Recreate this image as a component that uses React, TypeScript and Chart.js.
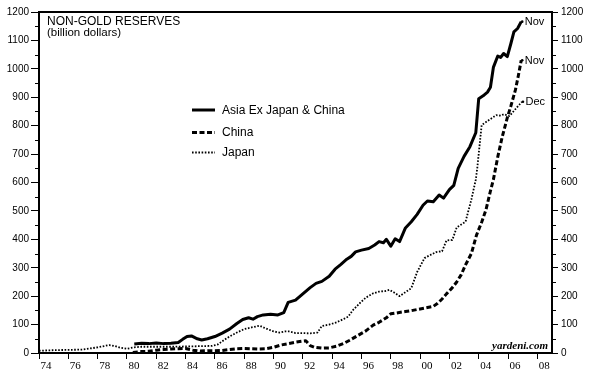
import React, { useEffect, useRef } from 'react';
import { Chart, registerables } from 'chart.js';

Chart.register(...registerables);

// ---- Data (billion dollars, decimal years) ----
const asiaYears = [1980.5, 1981.0, 1981.5, 1982.0, 1982.5, 1983.0, 1983.5, 1983.8, 1984.1, 1984.4, 1984.8, 1985.1, 1985.5, 1986.0, 1986.5, 1987.0, 1987.5, 1987.9, 1988.3, 1988.6, 1988.9, 1989.3, 1989.8, 1990.3, 1990.7, 1991.0, 1991.5, 1992.0, 1992.5, 1992.9, 1993.3, 1993.8, 1994.2, 1994.6, 1995.0, 1995.3, 1995.6, 1996.0, 1996.5, 1996.9, 1997.2, 1997.5, 1997.7, 1998.0, 1998.3, 1998.6, 1999.0, 1999.4, 1999.8, 2000.2, 2000.5, 2000.9, 2001.3, 2001.6, 2002.0, 2002.3, 2002.6, 2003.0, 2003.4, 2003.8, 2004.0, 2004.3, 2004.6, 2004.8, 2005.0, 2005.3, 2005.5, 2005.7, 2005.95, 2006.2, 2006.4, 2006.65, 2006.9];
const asiaValues = [32, 34, 33, 35, 33, 34, 37, 48, 58, 60, 50, 46, 50, 58, 70, 84, 104, 118, 124, 119, 128, 134, 136, 134, 142, 178, 186, 208, 230, 245, 252, 270, 295, 312, 330, 340, 356, 362, 368, 380, 392, 388, 400, 376, 402, 392, 440, 462, 488, 520, 535, 532, 556, 545, 575, 590, 650, 692, 726, 775, 895, 905, 918, 935, 1005, 1045, 1040, 1054, 1043, 1090, 1130, 1142, 1166];

const chinaYears = [1980.4, 1981.0, 1981.5, 1982.0, 1982.5, 1983.0, 1983.5, 1984.0, 1984.5, 1985.0, 1985.5, 1986.0, 1986.5, 1987.0, 1987.5, 1988.0, 1988.5, 1989.0, 1989.5, 1990.0, 1990.5, 1991.0, 1991.5, 1992.0, 1992.2, 1992.5, 1992.8, 1993.3, 1993.8, 1994.3, 1994.8, 1995.2, 1995.7, 1996.3, 1996.8, 1997.2, 1997.7, 1998.0, 1998.4, 1999.0, 1999.5, 2000.0, 2000.5, 2000.9, 2001.2, 2001.5, 2001.8, 2002.2, 2002.5, 2002.8, 2003.1, 2003.5, 2003.85, 2004.2, 2004.5, 2004.8, 2005.0, 2005.3, 2005.6, 2005.96, 2006.2, 2006.5, 2006.7, 2006.9];
const chinaValues = [2, 5, 6, 10, 12, 14, 15, 16, 10, 7, 8, 8, 9, 12, 15, 16, 15, 14, 15, 20, 28, 33, 38, 42, 43, 26, 20, 17, 18, 24, 34, 45, 60, 78, 98, 108, 124, 138, 141, 146, 150, 155, 160, 164, 175, 190, 208, 230, 250, 275, 310, 350, 415, 460, 505, 570, 610, 690, 760, 830, 870, 925, 975, 1030];

const japanYears = [1974.0, 1975.0, 1976.0, 1977.0, 1977.5, 1978.0, 1978.5, 1978.8, 1979.2, 1979.6, 1980.0, 1980.5, 1981.0, 1982.0, 1983.0, 1984.0, 1985.0, 1985.8, 1986.2, 1986.6, 1987.0, 1987.5, 1988.0, 1988.5, 1989.05, 1989.5, 1990.0, 1990.4, 1990.8, 1991.1, 1991.5, 1992.0, 1992.5, 1993.0, 1993.3, 1993.8, 1994.3, 1994.8, 1995.1, 1995.4, 1995.9, 1996.3, 1996.8, 1997.2, 1997.6, 1997.9, 1998.2, 1998.6, 1999.0, 1999.4, 1999.8, 2000.3, 2000.7, 2001.1, 2001.5, 2001.8, 2002.2, 2002.5, 2003.1, 2003.5, 2003.8, 2003.9, 2004.2, 2004.7, 2005.2, 2005.5, 2005.7, 2006.1, 2006.55, 2006.95];
const japanValues = [8, 10, 11, 12, 16, 20, 25, 28, 24, 18, 15, 20, 22, 22, 22, 23, 24, 25, 30, 45, 58, 72, 84, 90, 96, 86, 76, 72, 76, 76, 70, 70, 69, 72, 95, 100, 108, 120, 128, 150, 176, 195, 210, 216, 218, 222, 214, 200, 214, 228, 285, 334, 345, 355, 358, 396, 398, 442, 462, 540, 610, 650, 802, 820, 837, 835, 840, 834, 861, 884];

const seriesNames = ['Asia Ex Japan & China', 'China', 'Japan'];
const endLabels = ['Nov', 'Nov', 'Dec'];
const xTickYears = [1974, 1976, 1978, 1980, 1982, 1984, 1986, 1988, 1990, 1992, 1994, 1996, 1998, 2000, 2002, 2004, 2006, 2008];
const yMajorTicks = [0, 100, 200, 300, 400, 500, 600, 700, 800, 900, 1000, 1100, 1200];
const yMinorTicks = [50, 150, 250, 350, 450, 550, 650, 750, 850, 950, 1050, 1150];
const titleLines = ['NON-GOLD RESERVES', '(billion dollars)'];
const sourceText = 'yardeni.com';

const SANS = '"Liberation Sans", Arial, sans-serif';
const SERIF = '"Liberation Serif", "Times New Roman", serif';

const dashes: number[][] = [[], [5, 2.5], [1.6, 1.6]];
const widths = [3, 3, 1.8];

const overlayPlugin = {
  id: 'overlay',
  afterDraw(chart: any) {
    const ctx = chart.ctx as CanvasRenderingContext2D;
    const { left, right, top, bottom } = chart.chartArea;
    const yS = chart.scales.y;
    ctx.save();
    // frame
    ctx.strokeStyle = '#000';
    ctx.lineWidth = 2;
    ctx.setLineDash([]);
    ctx.strokeRect(left, top, right - left, bottom - top);
    // minor ticks
    ctx.lineWidth = 1;
    yMinorTicks.forEach((v) => {
      const py = Math.round(yS.getPixelForValue(v)) + 0.5;
      ctx.beginPath();
      ctx.moveTo(left - 4, py);
      ctx.lineTo(left, py);
      ctx.moveTo(right, py);
      ctx.lineTo(right + 4, py);
      ctx.stroke();
    });
    // title
    ctx.fillStyle = '#000';
    ctx.textAlign = 'left';
    ctx.textBaseline = 'alphabetic';
    ctx.font = `12px ${SANS}`;
    ctx.fillText(titleLines[0], left + 8, top + 13);
    ctx.font = `11.5px ${SANS}`;
    ctx.fillText(titleLines[1], left + 8, top + 24);
    // legend
    const legY = [110, 132.5, 152.5];
    seriesNames.forEach((name, i) => {
      ctx.beginPath();
      ctx.lineWidth = widths[i];
      ctx.setLineDash(dashes[i]);
      ctx.lineCap = 'butt';
      ctx.moveTo(192, legY[i]);
      ctx.lineTo(215, legY[i]);
      ctx.stroke();
      ctx.setLineDash([]);
      ctx.font = `12px ${SANS}`;
      ctx.textBaseline = 'middle';
      ctx.fillText(name, 222, legY[i] + 0.5);
    });
    // end labels
    ctx.font = `11px ${SANS}`;
    ctx.textBaseline = 'middle';
    chart.data.datasets.forEach((ds: any, i: number) => {
      const meta = chart.getDatasetMeta(i);
      const last = meta.data[meta.data.length - 1];
      if (!last) return;
      ctx.beginPath();
      ctx.arc(last.x + 1, last.y, 1.3, 0, Math.PI * 2);
      ctx.fill();
      ctx.fillText(endLabels[i], last.x + 3.5, last.y + 0.5);
    });
    // source
    ctx.font = `italic bold 11px ${SERIF}`;
    ctx.textAlign = 'right';
    ctx.textBaseline = 'alphabetic';
    ctx.fillText(sourceText, right - 4, bottom - 4);
    ctx.restore();
  },
};

export default function App() {
  const ref = useRef<HTMLCanvasElement | null>(null);
  useEffect(() => {
    if (!ref.current) return;
    const mk = (xs: number[], ys: number[]) => xs.map((x, i) => ({ x, y: ys[i] }));
    const all = [mk(asiaYears, asiaValues), mk(chinaYears, chinaValues), mk(japanYears, japanValues)];
    const chart = new Chart(ref.current, {
      type: 'line',
      data: {
        datasets: all.map((d, i) => ({
          label: seriesNames[i],
          data: d,
          borderColor: '#000',
          backgroundColor: '#000',
          borderWidth: widths[i],
          borderDash: dashes[i],
          borderJoinStyle: 'round',
          pointRadius: 0,
          tension: 0,
          fill: false,
        })),
      },
      options: {
        animation: false,
        responsive: false,
        parsing: true,
        layout: { padding: { top: 12, left: 0, right: 0, bottom: 0 } },
        plugins: { legend: { display: false }, tooltip: { enabled: false }, title: { display: false } },
        scales: {
          x: {
            type: 'linear',
            min: 1974,
            max: 2009,
            afterBuildTicks: (s: any) => {
              s.ticks = xTickYears.map((v) => ({ value: v }));
            },
            afterFit: (s: any) => {
              s.height = 27;
            },
            ticks: {
              autoSkip: false,
              maxRotation: 0,
              labelOffset: 7,
              padding: 1,
              color: '#000',
              font: { family: SERIF, size: 11 },
              callback: (v: any) => String(Number(v) % 100).padStart(2, '0'),
            },
            grid: { display: true, drawOnChartArea: false, drawTicks: true, tickLength: 6, color: '#000', lineWidth: 1 },
            border: { display: true, color: '#000', width: 2 },
          },
          y: {
            type: 'linear',
            position: 'left',
            min: 0,
            max: 1200,
            afterBuildTicks: (s: any) => {
              s.ticks = yMajorTicks.map((v) => ({ value: v }));
            },
            afterFit: (s: any) => {
              s.width = 39;
            },
            ticks: { color: '#000', padding: 2, font: { family: SANS, size: 10 }, callback: (v: any) => String(v) },
            grid: { display: true, drawOnChartArea: false, drawTicks: true, tickLength: 8, color: '#000', lineWidth: 1 },
            border: { display: true, color: '#000', width: 2 },
          },
          y1: {
            type: 'linear',
            position: 'right',
            min: 0,
            max: 1200,
            afterBuildTicks: (s: any) => {
              s.ticks = yMajorTicks.map((v) => ({ value: v }));
            },
            afterFit: (s: any) => {
              s.width = 37;
            },
            ticks: { color: '#000', padding: 3, font: { family: SANS, size: 10 }, callback: (v: any) => String(v) },
            grid: { display: true, drawOnChartArea: false, drawTicks: true, tickLength: 6, color: '#000', lineWidth: 1 },
            border: { display: true, color: '#000', width: 2 },
          },
        },
      } as any,
      plugins: [overlayPlugin],
    });
    return () => chart.destroy();
  }, []);
  return (
    <div style={{ position: 'absolute', left: 0, top: 0, width: 589, height: 380, background: '#fff' }}>
      <canvas ref={ref} width={589} height={380} />
    </div>
  );
}
